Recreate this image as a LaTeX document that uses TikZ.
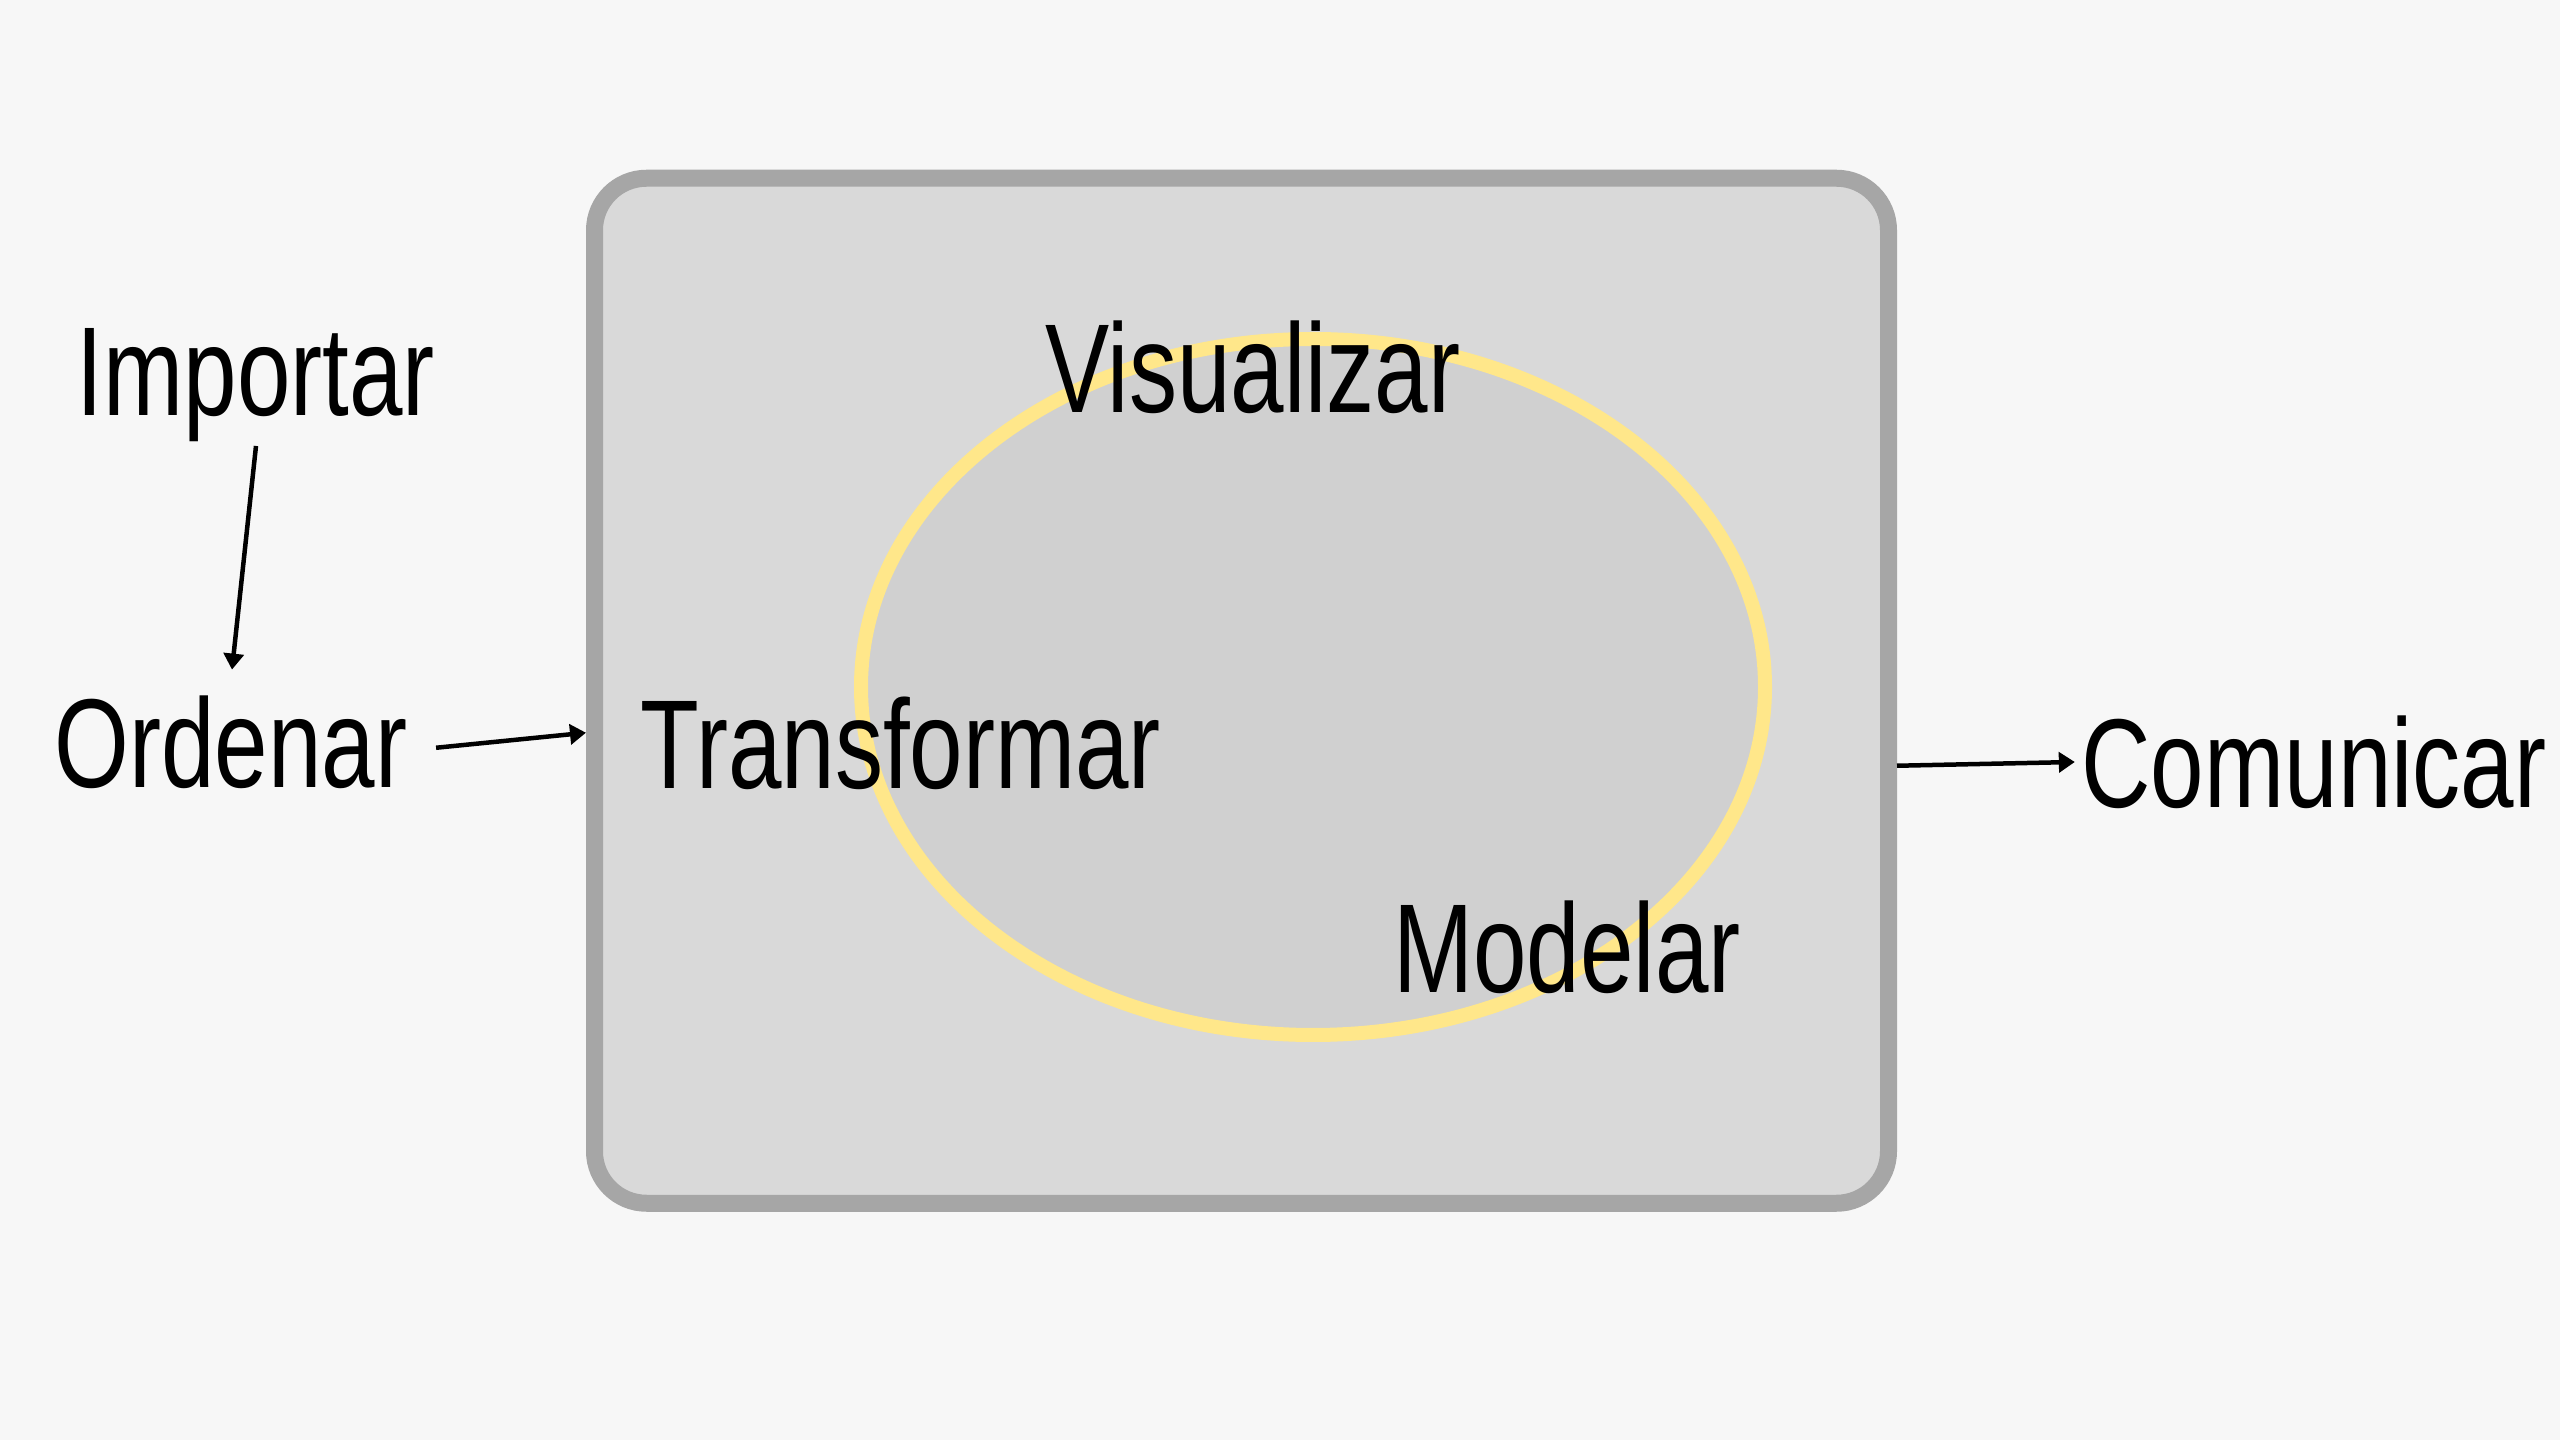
\documentclass[tikz,border=0pt]{standalone}
\usepackage{fontspec}
\newfontfamily\handfont{Liberation Sans}[FakeStretch=0.76]
\usepackage{tikz}
\usetikzlibrary{arrows.meta,positioning,backgrounds,shapes.geometric}
\definecolor{bgcol}{HTML}{F7F7F7}
\definecolor{boxfill}{HTML}{D9D9D9}
\definecolor{boxline}{HTML}{A6A6A6}
\definecolor{cycfill}{HTML}{D0D0D0}
\definecolor{cycline}{HTML}{FFE78A}
\tikzset{
  wbox/.style  ={draw=boxline, fill=boxfill, line width=1.7mm,
                 rounded corners=5.2mm, minimum width=12.94cm,
                 minimum height=10.25cm, inner sep=0pt},
  cyc/.style   ={draw=cycline, fill=cycfill, ellipse, line width=1.4mm,
                 minimum width=9.04cm, minimum height=6.96cm, inner sep=0pt},
  wrd/.style   ={anchor=base, inner sep=0pt,
                 font=\handfont\fontsize{36}{40}\selectfont},
  arr/.style   ={-{Triangle[length=1.6mm,width=2mm]}, line width=0.45mm},
}

\begin{document}
\begin{tikzpicture}
  \fill[bgcol] (0,0) rectangle (25.6,14.4);
  \useasboundingbox (0,0) rectangle (25.6,14.4);
  % the workspace box and the explore cycle
  \node[wbox] (box) at (12.415,7.4925) {};
  \node[cyc] (cycle) at (13.13,7.53) {};
  % words
  \node[wrd] (importar)    at (2.56,10.24)  {Importar};
  \node[wrd] (ordenar)     at (2.31,6.52)   {Ordenar};
  \node[wrd] (transformar) at (9.01,6.51)   {Transformar};
  \node[wrd] (visualizar)  at (12.53,10.27) {Visualizar};
  \node[wrd] (modelar)     at (15.67,4.47)  {Modelar};
  \node[wrd] (comunicar)   at (23.14,6.32)  {Comunicar};
  % arrows
  \draw[arr] ([yshift=-0.03cm]importar.south) -- ([shift={(0.01,0.26)}]ordenar.north);
  \draw[arr] ([xshift=0.28cm,yshift=-0.05cm]ordenar.east) -- ([yshift=-0.42cm]box.west);
  \draw[arr] ([yshift=-0.75cm]box.east) -- ([shift={(-0.06,0.46)}]comunicar.base west);
\end{tikzpicture}
\end{document}
